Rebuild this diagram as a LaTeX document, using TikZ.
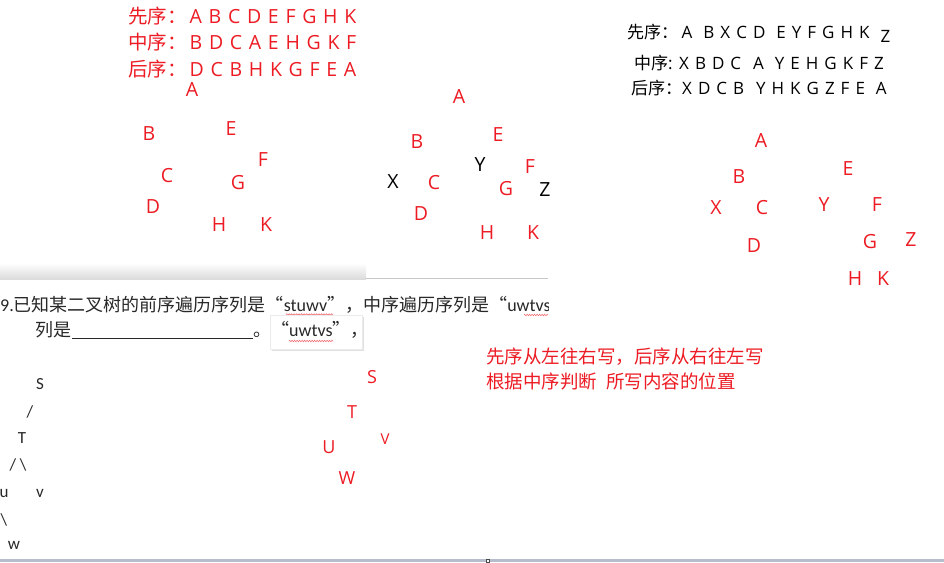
\documentclass[tikz,border=0pt]{standalone}
\usepackage{fontspec}
\setmainfont{Open Sans}
\newfontfamily\cjk{Noto Sans CJK SC}
\newfontfamily\calib{Carlito}
\usetikzlibrary{decorations.pathmorphing}
\definecolor{myred}{RGB}{237,28,36}
\definecolor{ink}{RGB}{40,40,40}
\definecolor{barcol}{RGB}{182,190,206}
\newcommand\sskA{\spaceskip 6.7pt\relax}
\newcommand\sskB{\spaceskip 6pt\relax}
\tikzset{
  rl/.style={text=myred, inner sep=0pt, font=\fontsize{19.5}{20}\selectfont},
  bl/.style={text=black, inner sep=0pt, font=\fontsize{19.5}{20}\selectfont},
  rs/.style={text=myred, inner sep=0pt, font=\fontsize{18}{18}\selectfont},
  hdrred/.style={text=myred, inner sep=0pt, anchor=base west, font=\fontsize{19.5}{20}\selectfont\sskA},
  hdrblk/.style={text=black, inner sep=0pt, anchor=base west, font=\fontsize{17}{17}\selectfont\sskB},
  shot/.style={text=ink, inner sep=0pt, anchor=base west, font=\fontsize{18}{18}\selectfont\calib},
  asc/.style={text=ink, inner sep=0pt, font=\fontsize{17}{17}\selectfont\calib},
  note/.style={text=myred, inner sep=0pt, anchor=base west, font=\fontsize{18.5}{19}\selectfont\cjk},
  wavy/.style={draw=myred!70, line width=0.5pt, decorate, decoration={zigzag, amplitude=0.8pt, segment length=2.5pt}}
}
\begin{document}
\begin{tikzpicture}[x=1pt,y=-1pt]
\path[use as bounding box, fill=white] (0,0) rectangle (944,562);

% ---------- top-left header ----------
\node[hdrred] (tl1) at (128,23) {{\cjk 先序：}\hspace{3pt}A B C D E F G H K};
\node[hdrred] (tl2) at (128,49) {{\cjk 中序：}\hspace{3pt}B D C A E H G K F};
\node[hdrred] (tl3) at (128,76) {{\cjk 后序：}\hspace{3pt}D C B H K G F E A};

% ---------- left tree ----------
\node[rl] (la) at (192,90) {A};
\node[rl] (lb) at (149,134) {B};
\node[rl] (le) at (231,129) {E};
\node[rl] (lf) at (263,160) {F};
\node[rl] (lc) at (167,176) {C};
\node[rl] (lg) at (238,183) {G};
\node[rl] (ld) at (153,207) {D};
\node[rl] (lh) at (219,225) {H};
\node[rl] (lk) at (266,225) {K};

% ---------- middle tree ----------
\node[rl] (ma) at (459,97) {A};
\node[rl] (mb) at (417,142) {B};
\node[rl] (me) at (498,135) {E};
\node[bl] (my) at (480,165) {Y};
\node[rl] (mf) at (530,167) {F};
\node[bl] (mx) at (393,182) {X};
\node[rl] (mc) at (434,183) {C};
\node[rl] (mg) at (506,189) {G};
\node[bl] (mz) at (545,190) {Z};
\node[rl] (md) at (421,214) {D};
\node[rl] (mh) at (487,233) {H};
\node[rl] (mk) at (533,233) {K};

% ---------- top-right header ----------
\node[hdrblk] (tr1) at (627,38) {{\cjk 先序：}\hspace{3.5pt}A\hspace{5pt} B X C D\hspace{5pt} E Y F G H K\hspace{5pt} \raisebox{-4pt}{Z}};
\node[hdrblk] (tr2) at (634,69) {{\cjk 中序}:\hspace{6.5pt}X B D C\hspace{6pt} A\hspace{5pt} Y E H G K F Z};
\node[hdrblk] (tr3) at (631,94) {{\cjk 后序：}X D C B\hspace{6pt} Y H K G Z F E\hspace{5pt} A};

% ---------- right tree ----------
\node[rl] (ra) at (761,141) {A};
\node[rl] (rb) at (739,177) {B};
\node[rl] (re) at (848,169) {E};
\node[rl] (rx) at (716,208) {X};
\node[rl] (rc) at (762,208) {C};
\node[rl] (ry) at (824,205) {Y};
\node[rl] (rf) at (877,205) {F};
\node[rl] (rg) at (870,242) {G};
\node[rl] (rz) at (911,240) {Z};
\node[rl] (rd) at (754,246) {D};
\node[rl] (rh) at (855,279) {H};
\node[rl] (rk) at (883,279) {K};

% ---------- screenshot area ----------
\shade[top color=white, bottom color=black!14] (0,263) rectangle (366,279);
\draw[black!22, line width=0.8pt] (366,278.6) -- (548,278.6);

\begin{scope}
\clip (0,280) rectangle (548,322);
\node[shot] (q1) at (0,311) {9.{\cjk 已知某二叉树的前序遍历序列是“}stuwv{\cjk ”，中序遍历序列是“}uwtvs};
\end{scope}
\draw[wavy] (286,314.5) -- (333,314.5);
\draw[wavy] (524,315) -- (548,315);

\node[shot] (q2) at (35,336) {\cjk 列是};
\coordinate (ul1) at (72,338.5);
\coordinate (ul2) at (253,338.5);
\draw[ink, line width=1.1pt] (ul1) -- (ul2);
\node[shot] (q3) at (253,336) {\cjk 。};

\fill[black!12] (272,317) rectangle (364,351);
\filldraw[fill=white, draw=black!8] (270,315) rectangle (362,349);
\node[shot] (q4) at (271,336) {{\cjk “}uwtvs{\cjk ”，}};
\draw[wavy] (289,341) -- (333,341);

% ascii tree
\node[asc] (as) at (40,384) {S};
\node[asc] (as1) at (30,412) {/};
\node[asc] (at) at (22,438) {T};
\node[asc] (at1) at (18,465) {/ \textbackslash};
\node[asc] (au) at (4,493) {u};
\node[asc] (av) at (40,493) {v};
\node[asc] (au1) at (4,520) {\textbackslash};
\node[asc] (aw) at (14,545) {w};

% red small tree
\node[rs] (bs) at (372,377) {S};
\node[rs] (bt) at (352,412) {T};
\node[rs, font=\fontsize{15}{15}\selectfont] (bv) at (385,439) {V};
\node[rs] (bu) at (329,447) {U};
\node[rs] (bw) at (347,478) {W};

% red notes
\node[note] (n1) at (486,363) {先序从左往右写，后序从右往左写};
\node[note] (n2) at (486,388) {根据中序判断\hspace{5pt} 所写内容的位置};

% bottom bar
\fill[barcol] (0,559) rectangle (944,562);
\filldraw[fill=white, draw=black!70, line width=0.5pt] (486,558.8) rectangle (489,562);
\end{tikzpicture}
\end{document}
